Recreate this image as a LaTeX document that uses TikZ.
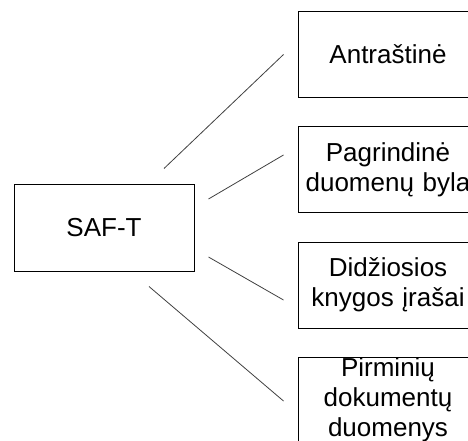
\documentclass[tikz,border=0pt]{standalone}
\usepackage{fontspec}
\setmainfont{Liberation Sans}
\usetikzlibrary{calc}

\begin{document}
\begin{tikzpicture}[x=1pt, y=-1pt]
    \tikzstyle{root} = [rectangle, draw, line width=1pt, inner sep=0pt, minimum width=180pt,
                                      minimum height=87pt, font=\fontsize{26}{30}\selectfont]
    \tikzstyle{part} = [rectangle, draw, line width=1pt, inner sep=0pt, text width=180pt, align=center,
                                      minimum height=86pt, font=\fontsize{26}{30}\selectfont]
    \tikzstyle{link} = [line width=0.8pt, black!75]
  \useasboundingbox (0,0) rectangle (468,441);
  \clip (0,0) rectangle (468,441);
  \node[root](saft) at (104,227.5){SAF-T};
  \node[part](head) at (388,54.5){Antraštinė};
  \node[part](master) at (388,169.5){Pagrindinė\\duomenų byla};
  \node[part](ledger) at (388,285){Didžiosios\\knygos įrašai};
  \node[part](source) at (388,400){Pirminių\\dokumentų\\duomenys};
  \draw[link] ($(saft.north)+(60,-15)$) -- ($(head.west)+(-14,0)$);
  \draw[link] ($(saft.east)+(14,-28.5)$) -- ($(master.west)+(-14,-14.5)$);
  \draw[link] ($(saft.east)+(14,29.5)$) -- ($(ledger.west)+(-14,15)$);
  \draw[link] ($(saft.south)+(45,15)$) -- ($(source.west)+(-14,1)$);
\end{tikzpicture}
\end{document}
